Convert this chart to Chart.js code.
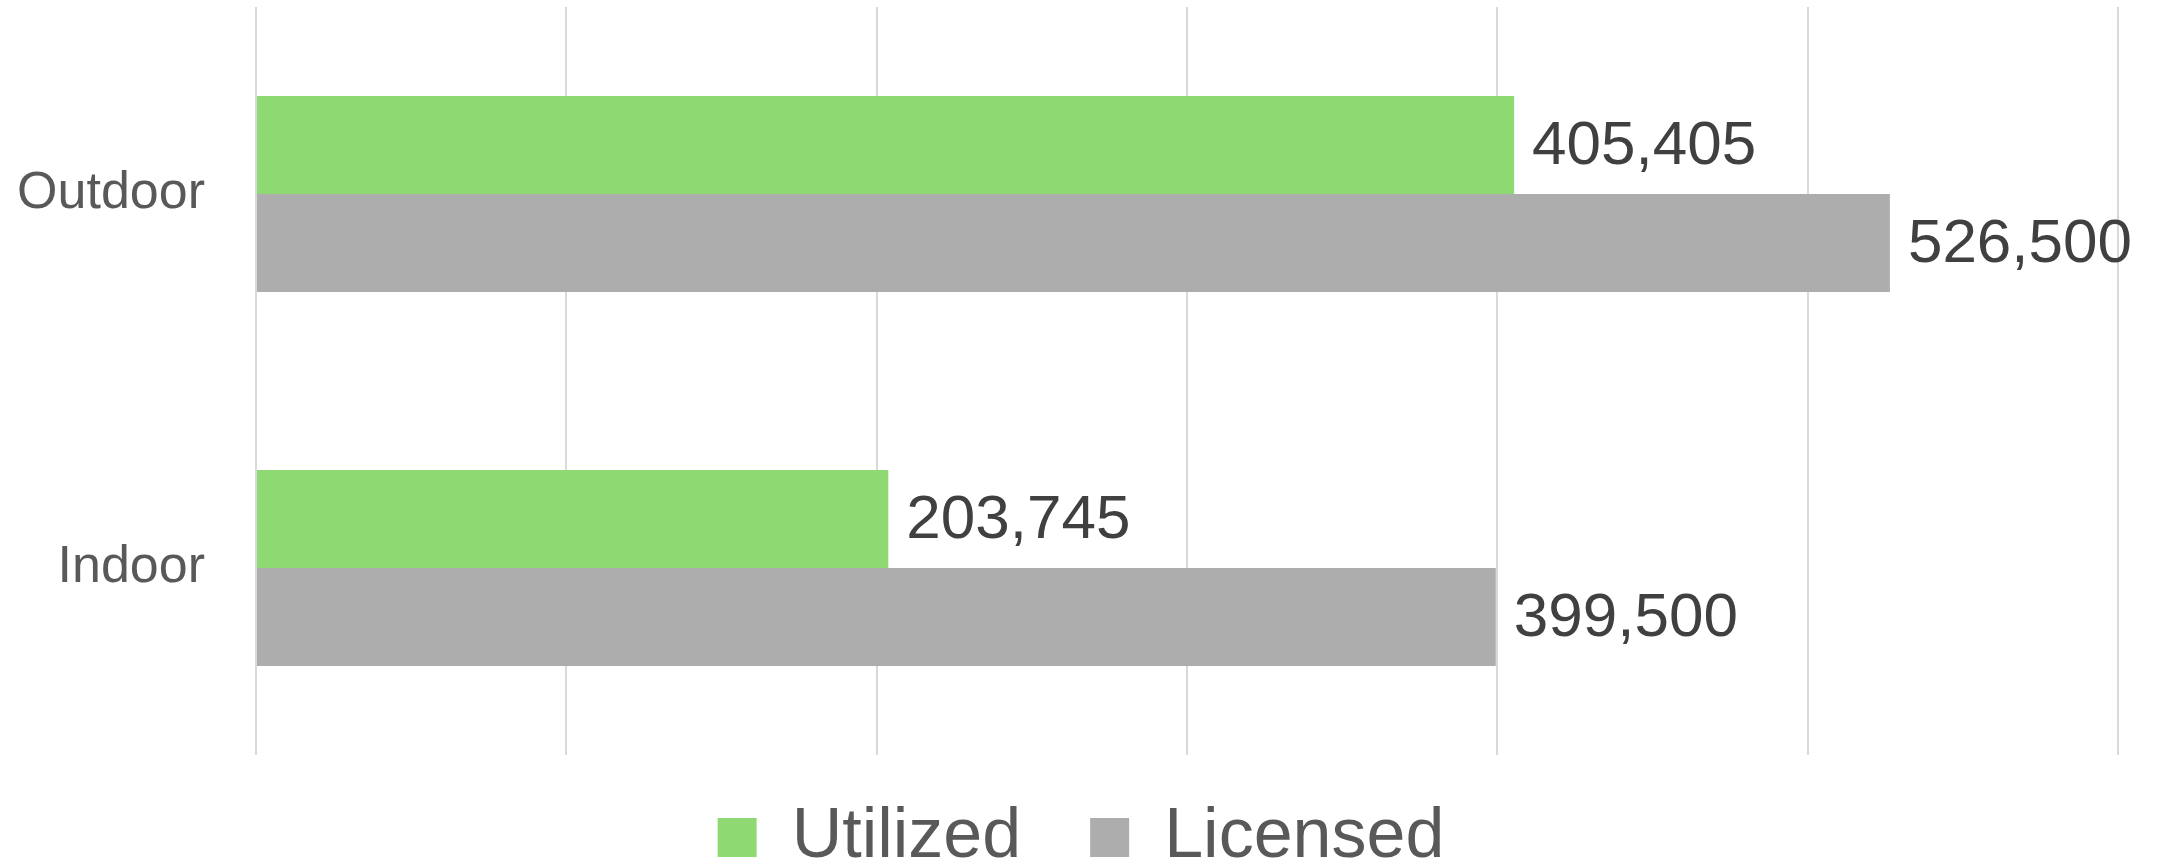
<!DOCTYPE html>
<html>
<head>
<meta charset="utf-8">
<script src="https://cdn.jsdelivr.net/npm/chart.js@4/dist/chart.umd.min.js"></script>
<style>
html,body{margin:0;padding:0;background:#fff;}
#wrap{width:2162px;height:863px;}
</style>
</head>
<body>
<div id="wrap"><canvas id="c" width="2162" height="863"></canvas></div>
<script>
const categories = ['Outdoor', 'Indoor'];
const seriesNames = ['Utilized', 'Licensed'];
const utilized = [405405, 203745];
const licensed = [526500, 399500];
const xTicks = [0, 100000, 200000, 300000, 400000, 500000, 600000];

const FONT = '"Liberation Sans", Arial, sans-serif';
const LEGEND_FONT = 70;
const LEGEND_PAD = 69;

const dataLabels = {
  id: 'dataLabels',
  afterDatasetsDraw(chart) {
    const ctx = chart.ctx;
    ctx.save();
    ctx.font = '62px ' + FONT;
    ctx.fillStyle = '#404040';
    ctx.textBaseline = 'middle';
    ctx.textAlign = 'left';
    chart.data.datasets.forEach((ds, di) => {
      const meta = chart.getDatasetMeta(di);
      meta.data.forEach((el, i) => {
        ctx.fillText(ds.data[i].toLocaleString('en-US'), el.x + 18, el.y + 2);
      });
    });
    ctx.restore();
  }
};

const legendShift = {
  id: 'legendShift',
  afterLayout(chart) {
    const l = chart.legend;
    if (!l) return;
    const wantRowTop = 818 - (LEGEND_FONT - 39) / 2;
    const dy = wantRowTop - (l.top + LEGEND_PAD);
    l.top += dy; l.height -= dy;
    l.right = chart.width; l.width = l.right - l.left;
  }
};

new Chart(document.getElementById('c'), {
  type: 'bar',
  data: {
    labels: categories,
    datasets: [
      { label: seriesNames[0], data: utilized, backgroundColor: '#8FD973', borderWidth: 0,
        categoryPercentage: 0.524, barPercentage: 1 },
      { label: seriesNames[1], data: licensed, backgroundColor: '#ADADAD', borderWidth: 0,
        categoryPercentage: 0.524, barPercentage: 1 }
    ]
  },
  options: {
    indexAxis: 'y',
    responsive: false,
    devicePixelRatio: 1,
    animation: false,
    layout: { padding: { top: 7, right: 44, bottom: 0, left: 0 } },
    scales: {
      x: {
        min: xTicks[0], max: xTicks[xTicks.length - 1],
        afterBuildTicks(scale) { scale.ticks = xTicks.map(v => ({ value: v })); },
        ticks: { display: false },
        grid: { color: '#D9D9D9', lineWidth: 2, drawTicks: false },
        border: { display: false },
        afterFit(scale) { scale.height = 0; scale.paddingLeft = 0; scale.paddingRight = 0; }
      },
      y: {
        ticks: { color: '#595959', font: { family: FONT, size: 52 }, padding: 51 },
        grid: { display: false, drawTicks: false },
        border: { display: false },
        afterFit(scale) { scale.width = 256; scale.paddingTop = 0; scale.paddingBottom = 0; }
      }
    },
    plugins: {
      tooltip: { enabled: false },
      legend: {
        position: 'bottom',
        maxHeight: 108,
        labels: {
          color: '#595959',
          font: { family: FONT, size: LEGEND_FONT },
          boxWidth: 39,
          boxHeight: 39,
          padding: LEGEND_PAD
        }
      }
    }
  },
  plugins: [dataLabels, legendShift]
});
</script>
</body>
</html>
